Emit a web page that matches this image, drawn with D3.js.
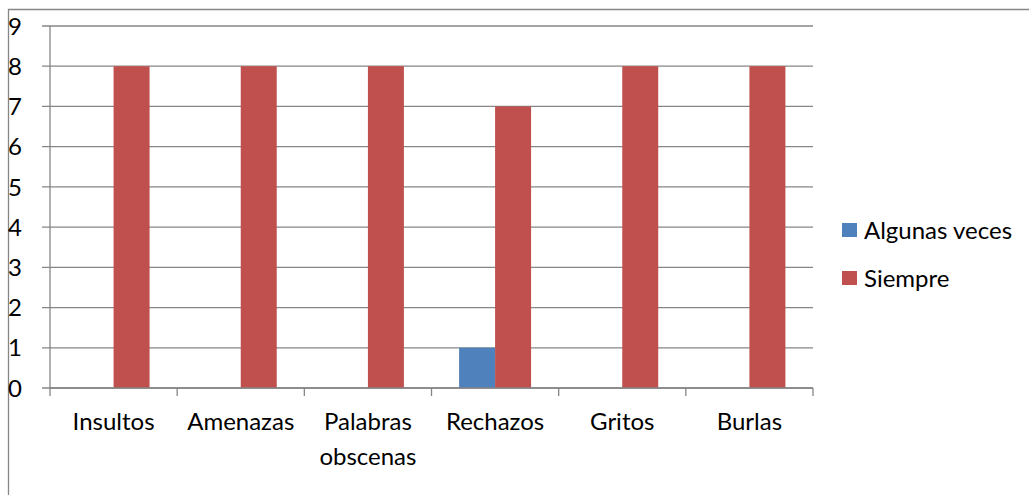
<!DOCTYPE html>
<html>
<head>
<meta charset="utf-8">
<script src="https://cdn.jsdelivr.net/npm/d3@7"></script>
<style>
  html, body { margin: 0; padding: 0; background: #fff; }
  svg { display: block; font-family: Lato, "Open Sans", sans-serif; }
</style>
</head>
<body>
<div id="chart"></div>
<script>
// ── Data ──────────────────────────────────────────────────────────────
const categories = [['Insultos'], ['Amenazas'], ['Palabras', 'obscenas'], ['Rechazos'], ['Gritos'], ['Burlas']];
const seriesNames = ['Algunas veces', 'Siempre'];
const algunasVeces = [0, 0, 0, 1, 0, 0];
const siempre      = [8, 8, 8, 7, 8, 8];
const yTicks = [0, 1, 2, 3, 4, 5, 6, 7, 8, 9];
const colors = ['#4F81BD', '#C0504D'];

const W = 1029, H = 495;
const plot = { left: 50, right: 813, top: 26, bottom: 388 };
const FS = 24;

const svg = d3.select('#chart').append('svg')
  .attr('width', W).attr('height', H);

// chart area border (only top and left visible in the crop)
svg.append('path')
  .attr('d', `M8.5,${H}V9.5H${W}`)
  .attr('fill', 'none')
  .attr('stroke', '#868686')
  .attr('stroke-width', 1.3);

const x = d3.scaleBand()
  .domain(d3.range(categories.length))
  .range([plot.left, plot.right]);

const y = d3.scaleLinear()
  .domain([0, 9])
  .range([plot.bottom, plot.top]);

// gridlines + left ticks
svg.append('g').selectAll('line')
  .data(yTicks)
  .join('line')
  .attr('x1', plot.left - 8).attr('x2', plot.right)
  .attr('y1', d => y(d)).attr('y2', d => y(d))
  .attr('stroke', '#868686')
  .attr('stroke-width', 1.3);

// y axis line
svg.append('line')
  .attr('x1', plot.left).attr('x2', plot.left)
  .attr('y1', plot.top).attr('y2', plot.bottom)
  .attr('stroke', '#868686')
  .attr('stroke-width', 1.3);

// y labels
svg.append('g').selectAll('text')
  .data(yTicks)
  .join('text')
  .attr('x', 22)
  .attr('y', d => y(d))
  .attr('dy', '0.36em')
  .attr('text-anchor', 'end')
  .attr('font-size', FS)
  .attr('fill', '#000')
  .text(d => d);

// bars
const barW = x.bandwidth() * 0.283;
const series = [algunasVeces, siempre];
series.forEach((vals, s) => {
  svg.append('g').selectAll('rect')
    .data(vals)
    .join('rect')
    .attr('x', (d, i) => x(i) + x.bandwidth() / 2 + (s - 1) * barW)
    .attr('width', barW)
    .attr('y', d => y(d))
    .attr('height', d => y(0) - y(d))
    .attr('fill', colors[s]);
});

// x axis + ticks at band edges
svg.append('line')
  .attr('x1', plot.left).attr('x2', plot.right)
  .attr('y1', plot.bottom).attr('y2', plot.bottom)
  .attr('stroke', '#868686')
  .attr('stroke-width', 1.3);

const edges = d3.range(categories.length + 1).map(i => plot.left + i * x.step());
svg.append('g').selectAll('line')
  .data(edges)
  .join('line')
  .attr('x1', d => d).attr('x2', d => d)
  .attr('y1', plot.bottom).attr('y2', plot.bottom + 8)
  .attr('stroke', '#868686')
  .attr('stroke-width', 1.3);

// x labels
const xl = svg.append('g').selectAll('text')
  .data(categories)
  .join('text')
  .attr('x', (d, i) => x(i) + x.bandwidth() / 2)
  .attr('y', 430)
  .attr('text-anchor', 'middle')
  .attr('font-size', FS)
  .attr('fill', '#000');
xl.selectAll('tspan')
  .data(d => d)
  .join('tspan')
  .attr('x', function () { return this.parentNode.getAttribute('x'); })
  .attr('dy', (d, i) => i === 0 ? 0 : 35)
  .text(d => d);

// legend
const legend = svg.append('g').selectAll('g')
  .data(seriesNames)
  .join('g')
  .attr('transform', (d, i) => `translate(842,${223 + i * 48})`);
legend.append('rect')
  .attr('width', 15).attr('height', 14)
  .attr('fill', (d, i) => colors[i]);
legend.append('text')
  .attr('x', 22).attr('y', 7)
  .attr('dy', '0.36em')
  .attr('font-size', FS)
  .attr('fill', '#000')
  .text(d => d);
</script>
</body>
</html>
